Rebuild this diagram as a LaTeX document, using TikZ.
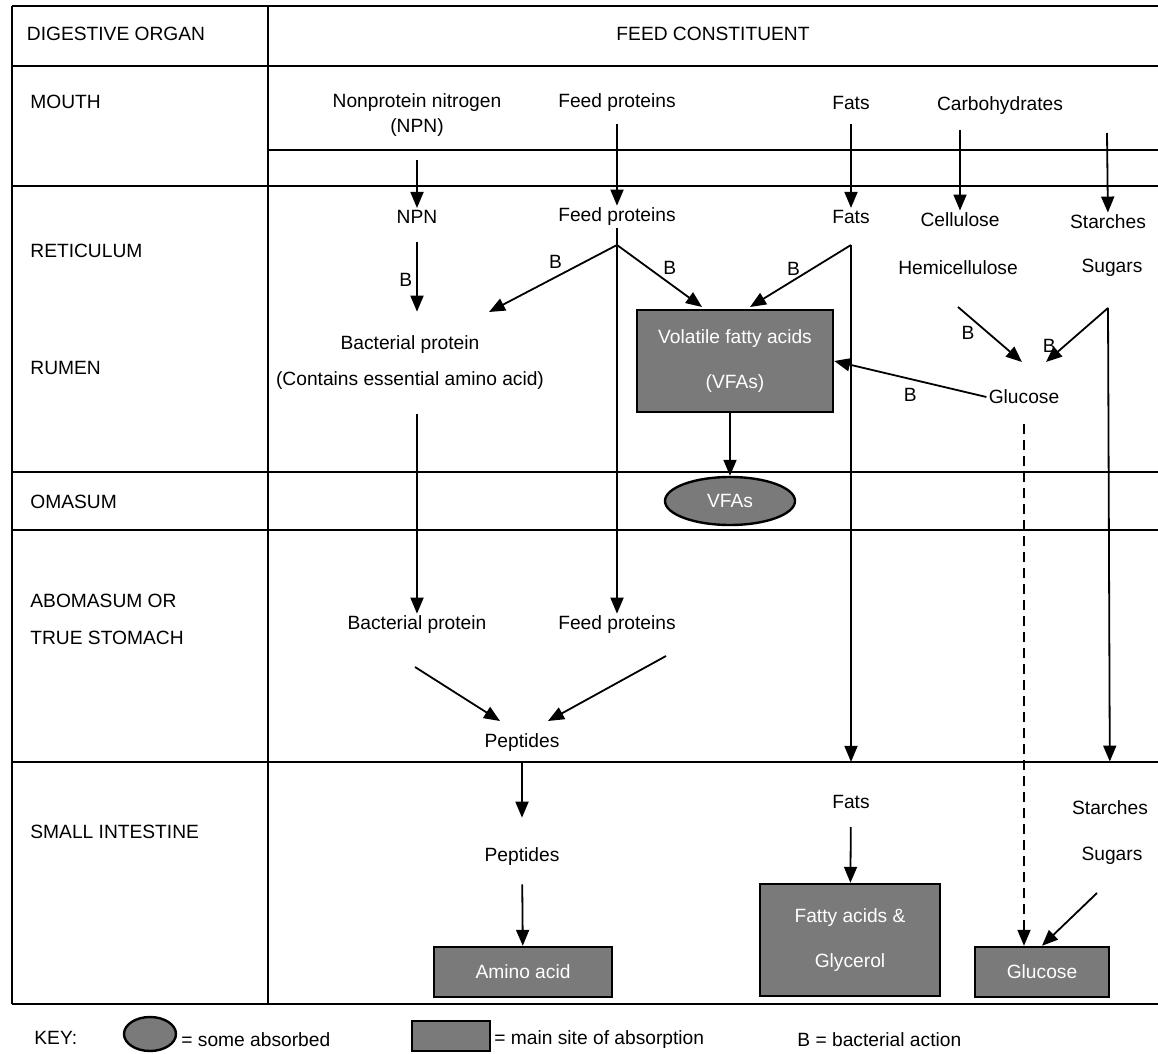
\documentclass[tikz,border=0pt]{standalone}
\usepackage{fontspec}
\setmainfont{Liberation Sans}
\usetikzlibrary{arrows.meta, shapes.geometric}

\begin{document}
\begin{tikzpicture}[x = .5pt, y = -.5pt,
        txt/.style = {font = \fontsize{9.6}{12.5}\selectfont, inner sep = 1pt, align = center},
        organ/.style = {txt, anchor = west},
        bnote/.style = {txt, inner sep = 0pt},
        flow/.style = {-{Triangle[length = 8pt, width = 6.5pt]}, line width = .9pt},
        tableline/.style = {line width = .9pt},
        absorbed/.style = {txt, draw, line width = 1.2pt, fill = black!52, text = white, inner sep = 0pt},
        someabsorbed/.style = {absorbed, ellipse}]

    \useasboundingbox (0, 0) rectangle (1158, 1054);

    \def\leftedge {12}
    \def\colsplit {268}
    \def\rightedge {1158}
    \def\bottomedge {1004}

    % table
    \foreach \rowline in {6, 66, 186, 472, 530, 762, \bottomedge}
        \draw [tableline] (\leftedge, \rowline) -- (\rightedge, \rowline);
    \draw [tableline] (\colsplit, 150) -- (\rightedge, 150);
    \draw [tableline] (\leftedge, 6) -- (\leftedge, \bottomedge);
    \draw [tableline] (\colsplit, 6) -- (\colsplit, \bottomedge);

    % headings and organs
    \node [txt] (organhead) at (116, 34) {DIGESTIVE ORGAN};
    \node [txt] (feedhead) at (713, 34) {FEED CONSTITUENT};
    \node [organ] (mouth) at (28, 102) {MOUTH};
    \node [organ] (reticulum) at (28, 251) {RETICULUM};
    \node [organ] (rumen) at (28, 368) {RUMEN};
    \node [organ] (omasum) at (28, 502) {OMASUM};
    \node [organ] (abomasum) at (28, 601) {ABOMASUM OR};
    \node [organ] (truestomach) at (28, 638) {TRUE STOMACH};
    \node [organ] (smallint) at (28, 832) {SMALL INTESTINE};

    % mouth
    \node [txt] (npn0) at (417, 115) {Nonprotein nitrogen\\(NPN)};
    \node [txt] (prot0) at (617, 103) {Feed proteins};
    \node [txt] (fat0) at (851, 103) {Fats};
    \node [txt] (carb0) at (1000, 106) {Carbohydrates};

    % reticulum and rumen
    \node [txt] (npn1) at (417, 217) {NPN};
    \node [txt] (prot1) at (617, 217) {Feed proteins};
    \node [txt] (fat1) at (851, 217) {Fats};
    \node [txt] (cell) at (960, 220) {Cellulose};
    \node [txt] (starch1) at (1108, 222) {Starches};
    \node [txt] (hemi) at (958, 268) {Hemicellulose};
    \node [txt] (sugar1) at (1112, 268) {Sugars};
    \node [txt] (bprot1) at (410, 345) {Bacterial protein};
    \node [txt] (contains) at (410, 381) {(Contains essential amino acid)};
    \node [absorbed, minimum width = 98pt, minimum height = 51pt] (vfa) at (735, 361) {Volatile fatty acids\\[10pt](VFAs)};
    \node [txt] (glc1) at (1024, 397) {Glucose};

    % omasum
    \node [someabsorbed, minimum width = 65pt, minimum height = 24pt] (vfas) at (730, 501) {VFAs};

    % abomasum
    \node [txt] (bprot2) at (417, 625) {Bacterial protein};
    \node [txt] (prot2) at (617, 625) {Feed proteins};
    \node [txt] (pep1) at (522, 743) {Peptides};

    % small intestine
    \node [txt] (pep2) at (522, 857) {Peptides};
    \node [txt] (fat2) at (851, 802) {Fats};
    \node [txt] (starch2) at (1110, 808) {Starches};
    \node [txt] (sugar2) at (1112, 856) {Sugars};
    \node [absorbed, minimum width = 89pt, minimum height = 25pt] (amino) at (523, 972) {Amino acid};
    \node [absorbed, minimum width = 90pt, minimum height = 56pt] (fatty) at (850, 940) {Fatty acids \&\\[10pt]Glycerol};
    \node [absorbed, minimum width = 67pt, minimum height = 25pt] (glcbox) at (1042, 972) {Glucose};

    % free ends of the connectors
    \coordinate (npnin) at (417, 160);
    \coordinate (cellin) at (960, 130);
    \coordinate (starchin) at (1107, 133);
    \coordinate (protfork) at (617, 245);
    \coordinate (fatfork) at (851, 245);
    \coordinate (sugarfork) at (1108, 308);
    \coordinate (hemiout) at (958, 307);
    \coordinate (bactright) at (489, 312);
    \coordinate (vfaleft) at (702, 307);
    \coordinate (vfaright) at (750, 307);
    \coordinate (glcleft) at (1022, 362);
    \coordinate (glcright) at (1046, 362);
    \coordinate (bactdown) at (415, 667);
    \coordinate (pepleft) at (500, 721);
    \coordinate (protdown) at (666, 656);
    \coordinate (pepright) at (548, 721);
    \coordinate (sugardown) at (1097, 893);

    % mouth to reticulum
    \draw [flow] (npnin) -- (npn1);
    \draw [flow, shorten <= 5pt] (prot0) -- (prot1);
    \draw [flow, shorten <= 6pt] (fat0) -- (fat1);
    \draw [flow] (cellin) -- (cell);
    \draw [flow] (starchin) -- (starch1);

    % bacterial action
    \draw [flow, shorten <= 8pt, shorten >= 11pt] (npn1) -- (npn1 |- bprot1.north) node [bnote, midway, left = 2pt] {B};
    \draw [line width = .9pt] (prot1) -- (protfork);
    \draw [flow] (protfork) -- (bactright) node [bnote, pos = .48, above = 4pt] {B};
    \draw [flow] (protfork) -- (vfaleft) node [bnote, pos = .62, above = 4pt] {B};
    \draw [flow] (fatfork) -- (vfaright) node [bnote, pos = .57, above = 2pt] {B};
    \draw [flow] (hemiout) -- (glcleft) node [bnote, pos = .3, below left = 1pt] {B};
    \draw [flow] (sugarfork) -- (glcright) node [bnote, pos = .7, left = 4pt] {B};
    \draw [flow] (glc1.west) -- (vfa.east) node [bnote, midway, below = 4pt] {B};
    \draw [flow, dashed, dash pattern = on 5pt off 3pt, shorten <= 9pt] (glc1) -- (glc1 |- glcbox.north);
    \draw [flow] (vfa.south -| vfas) -- (vfas);

    % down to the true stomach and the small intestine
    \draw [flow, shorten <= 11pt] (contains.south -| bprot2) -- (bprot2);
    \draw [flow] (protfork) -- (prot2);
    \draw [flow, shorten >= 15.5pt] (fatfork) -- (fat2);
    \draw [flow, shorten >= 18.5pt] (sugarfork) -- (starch2);
    \draw [flow] (bactdown) -- (pepleft);
    \draw [flow] (protdown) -- (pepright);
    \draw [flow, shorten <= 4.5pt, shorten >= 14pt] (pep1) -- (pep2);
    \draw [flow, shorten <= 8pt] (pep2) -- (amino);
    \draw [flow, shorten <= 8pt] (fat2) -- (fatty);
    \draw [flow] (sugardown) -- (glcbox.north);

    % key
    \node [organ] (keyword) at (32, 1038) {KEY:};
    \node [someabsorbed, minimum width = 26pt, minimum height = 17pt] (keyoval) at (150, 1034) {};
    \node [organ] (keyovaltext) at (179, 1040) {= some absorbed};
    \node [absorbed, minimum width = 39pt, minimum height = 15pt] (keybox) at (451, 1036) {};
    \node [organ] (keyboxtext) at (492, 1040) {= main site of absorption};
    \node [organ] (keyb) at (795, 1040) {B = bacterial action};
\end{tikzpicture}
\end{document}
